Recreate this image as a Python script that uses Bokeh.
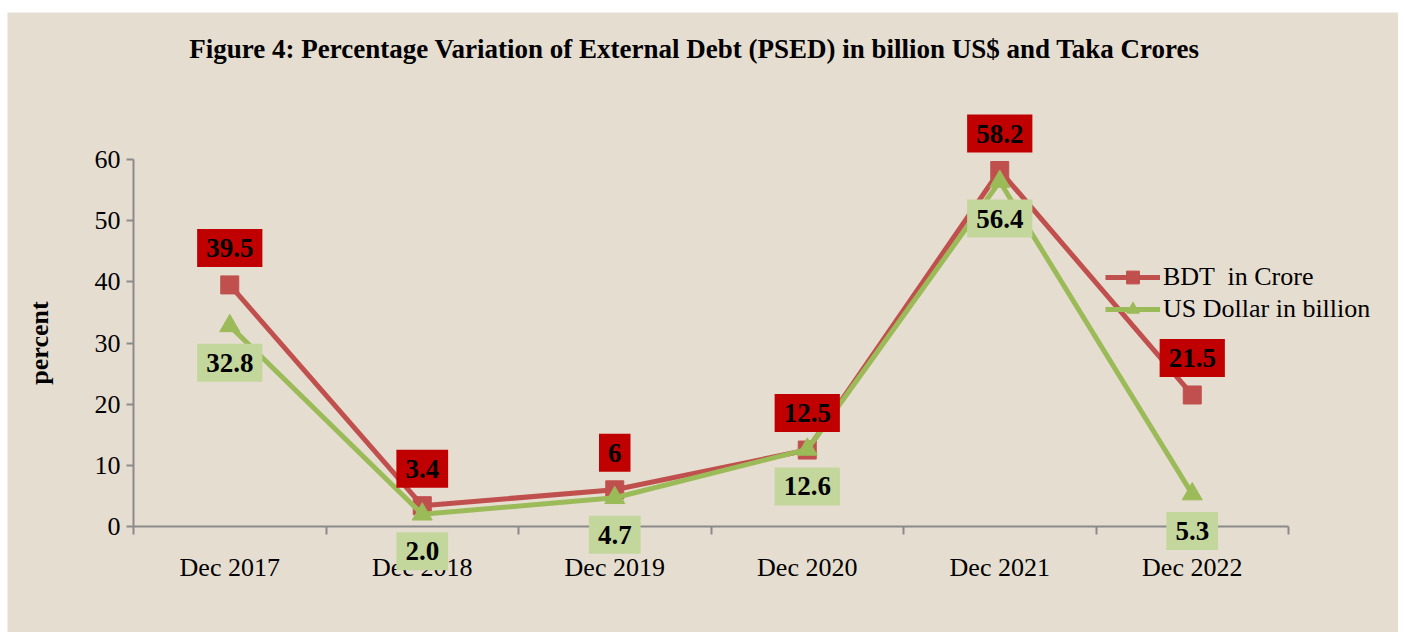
from bokeh.plotting import figure
from bokeh.models import Range1d, FixedTicker, ColumnDataSource, Label, Legend, LegendItem
from bokeh.embed import file_html
from bokeh.resources import INLINE

# ---- data ----
categories = ["Dec 2017", "Dec 2018", "Dec 2019", "Dec 2020", "Dec 2021", "Dec 2022"]
bdt_crore = [39.5, 3.4, 6, 12.5, 58.2, 21.5]
usd_billion = [32.8, 2.0, 4.7, 12.6, 56.4, 5.3]
bdt_text = ["39.5", "3.4", "6", "12.5", "58.2", "21.5"]
usd_text = ["32.8", "2.0", "4.7", "12.6", "56.4", "5.3"]
y_ticks = [0, 10, 20, 30, 40, 50, 60]
title_text = "Figure 4: Percentage Variation of External Debt (PSED)  in billion US$  and Taka Crores"

BG = "#e6ddd1"
AX = "#8a8a8a"
RED = "#c0504d"
GREEN = "#9bbb59"
RED_BOX = "#c00000"
GREEN_BOX = "#c3d69b"
FONT = "Liberation Serif"

n = len(categories)
xs = [i + 0.5 for i in range(n)]

# pixel geometry of the plotting area (axes drawn inside a larger frame so labels are not clipped)
W, H = 1398, 632
LEFT, TOP = 7, 12
X0_PX, CAT_PX = 133, 192.5        # x of axis origin, px per category
Y0_PX, UNIT_PX = 526, 367 / 60.0   # y of zero line, px per percent

x_start = (LEFT - X0_PX) / CAT_PX
x_end = (W - X0_PX) / CAT_PX
y_end = (Y0_PX - TOP) / UNIT_PX
y_start = -(H - Y0_PX) / UNIT_PX

src = ColumnDataSource(dict(x=xs, bdt=bdt_crore, usd=usd_billion))

p = figure(width=W, height=H, output_backend="svg", toolbar_location=None,
           x_range=Range1d(x_start, x_end), y_range=Range1d(y_start, y_end),
           min_border_left=LEFT, min_border_right=0, min_border_top=TOP, min_border_bottom=0)
p.background_fill_color = BG
p.border_fill_color = "white"
p.outline_line_color = None
p.grid.visible = False

xa = p.xaxis[0]
xa.fixed_location = 0
xa.bounds = (0, n)
xa.ticker = FixedTicker(ticks=xs, minor_ticks=list(range(n + 1)))
xa.major_label_overrides = {x: c for x, c in zip(xs, categories)}
xa.major_tick_line_color = None
xa.major_tick_out = 8
xa.major_tick_in = 0
xa.minor_tick_out = 8
xa.minor_tick_in = 0
xa.minor_tick_line_color = AX
xa.minor_tick_line_width = 2
xa.axis_line_color = AX
xa.axis_line_width = 2
xa.major_label_standoff = 18
xa.major_label_text_font = FONT
xa.major_label_text_font_size = "26px"
xa.major_label_text_color = "black"

ya = p.yaxis[0]
ya.fixed_location = 0
ya.bounds = (0, 60)
ya.ticker = FixedTicker(ticks=y_ticks)
ya.minor_tick_line_color = None
ya.major_tick_in = 0
ya.major_tick_out = 7
ya.major_tick_line_color = AX
ya.major_tick_line_width = 2
ya.axis_line_color = AX
ya.axis_line_width = 2
ya.major_label_standoff = 6
ya.major_label_text_font = FONT
ya.major_label_text_font_size = "26px"
ya.major_label_text_color = "black"
ya.axis_label = "percent"
ya.axis_label_text_font = FONT
ya.axis_label_text_font_style = "bold"
ya.axis_label_text_font_size = "26px"
ya.axis_label_text_color = "black"
ya.axis_label_standoff = 38

r_line = p.line("x", "bdt", source=src, line_color=RED, line_width=5)
r_mark = p.scatter("x", "bdt", source=src, marker="square", size=18, fill_color=RED, line_color=RED)
g_line = p.line("x", "usd", source=src, line_color=GREEN, line_width=5)
g_mark = p.scatter("x", "usd", source=src, marker="triangle", size=20, fill_color=GREEN, line_color=GREEN)

for x, v, t in zip(xs, bdt_crore, bdt_text):
    p.add_layout(Label(x=x, y=v, text=t, y_offset=37, text_align="center", text_baseline="middle",
                       text_font=FONT, text_font_style="bold", text_font_size="27px", text_color="black",
                       background_fill_color=RED_BOX, padding=(9, 10)))
for x, v, t in zip(xs, usd_billion, usd_text):
    p.add_layout(Label(x=x, y=v, text=t, y_offset=-37, text_align="center", text_baseline="middle",
                       text_font=FONT, text_font_style="bold", text_font_size="27px", text_color="black",
                       background_fill_color=GREEN_BOX, padding=(9, 10)))

legend = Legend(items=[LegendItem(label="BDT  in Crore", renderers=[r_line, r_mark]),
                       LegendItem(label="US Dollar in billion", renderers=[g_line, g_mark])],
                location=(1105 - LEFT, H - 325), orientation="vertical",
                background_fill_alpha=0, border_line_color=None,
                padding=0, margin=0, spacing=0,
                glyph_width=55, glyph_height=32, label_height=32, label_standoff=3,
                label_text_font=FONT, label_text_font_size="26px", label_text_color="black")
p.add_layout(legend)

title = Label(x=2.95, y=78, text=title_text, text_align="center", text_baseline="middle",
              text_font=FONT, text_font_style="bold", text_font_size="27px", text_color="black")
p.add_layout(title)

open("out.html", "w").write(file_html(p, INLINE))
